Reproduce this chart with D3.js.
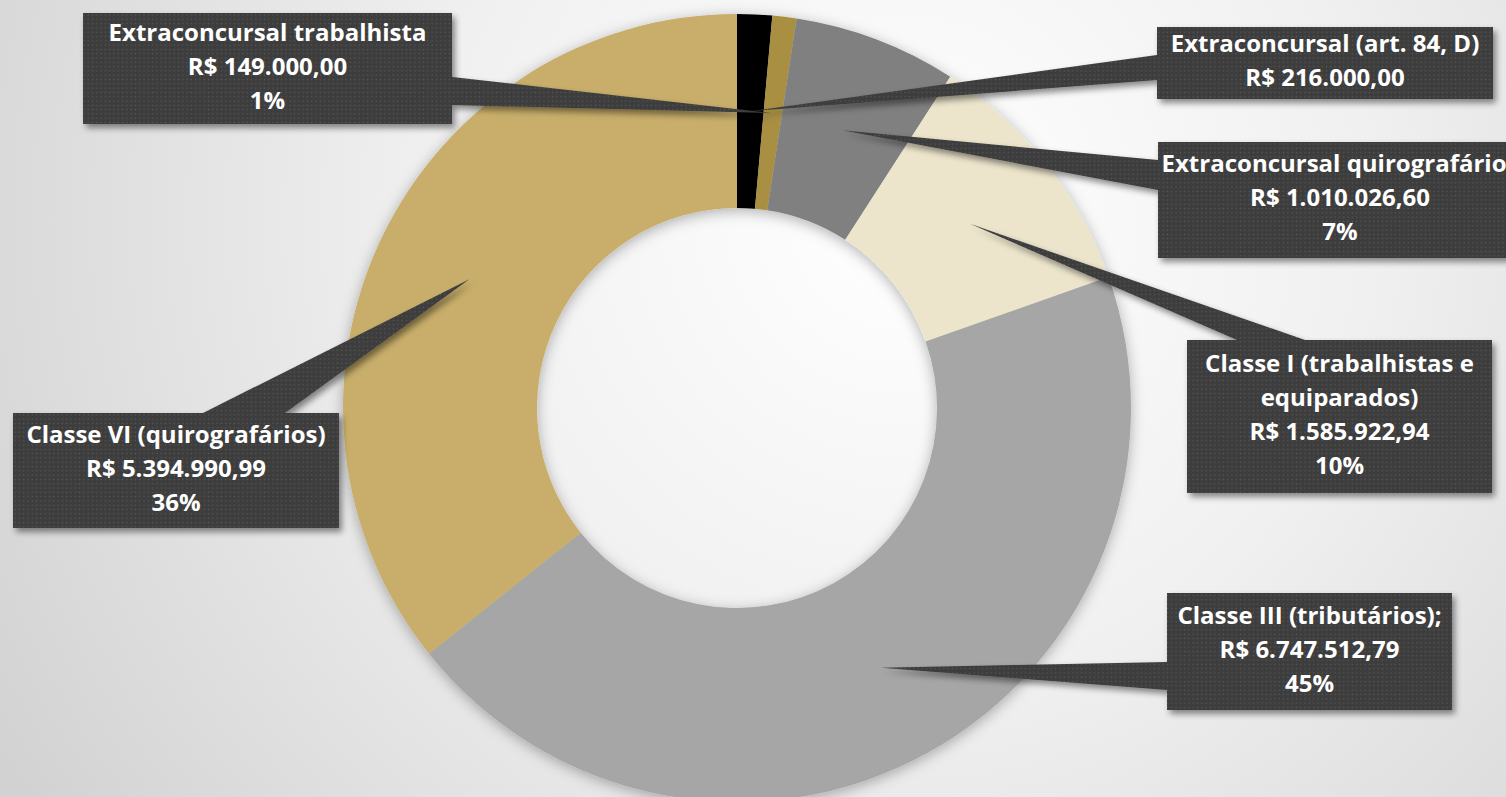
<!DOCTYPE html>
<html>
<head>
<meta charset="utf-8">
<script src="https://cdn.jsdelivr.net/npm/d3@7"></script>
<style>
  html, body { margin: 0; padding: 0; overflow: hidden; }
  svg { display: block; }
</style>
</head>
<body>
<div id="chart"></div>
<script>
// data
var categories = ["Extraconcursal (art. 84, D)", "Extraconcursal trabalhista", "Extraconcursal quirografários",
                  "Classe I (trabalhistas e\nequiparados)", "Classe III (tributários);", "Classe VI (quirografários)"];
var values = [216000, 149000, 1010026.60, 1585922.94, 6747512.79, 5394990.99];
var percentLabels = ["", "1%", "7%", "10%", "45%", "36%"];
var colors = ["#000000", "#a88f42", "#808080", "#ece5cc", "#a6a6a6", "#c8ae6b"];

// callout boxes: [x, y, w, h] and the two base points of the pointer
var boxes = [
  [1157, 27, 336, 72],
  [83, 13, 369, 111],
  [1158, 142, 364, 116],
  [1187, 340, 305, 153],
  [1167, 593, 285, 117],
  [13, 413, 326, 115]
];
var bases = [
  [[1157, 55], [1157, 80]],
  [[452, 77], [452, 105]],
  [[1158, 160], [1158, 190]],
  [[1237, 340], [1305, 340]],
  [[1167, 662], [1167, 690]],
  [[203, 413], [285, 413]]
];

var width = 1506, height = 797;
var cx = 737, cy = 408, outerR = 394, innerR = 200;

var brl = d3.formatLocale({decimal: ",", thousands: ".", grouping: [3], currency: ["R$ ", ""]});
var fmt = brl.format("$,.2f");

var svg = d3.select("#chart").append("svg")
  .attr("width", width)
  .attr("height", height);

var defs = svg.append("defs");

var bg = defs.append("radialGradient")
  .attr("id", "bg")
  .attr("gradientUnits", "userSpaceOnUse")
  .attr("cx", 900).attr("cy", 220).attr("r", 1050);
bg.append("stop").attr("offset", "0").attr("stop-color", "#ffffff");
bg.append("stop").attr("offset", "0.45").attr("stop-color", "#f0f0f0");
bg.append("stop").attr("offset", "1").attr("stop-color", "#d2d2d2");

var pat = defs.append("pattern")
  .attr("id", "dots")
  .attr("patternUnits", "userSpaceOnUse")
  .attr("width", 4.3).attr("height", 4.3);
pat.append("rect").attr("width", 4.3).attr("height", 4.3).attr("fill", "#3d3d3d");
pat.append("rect").attr("x", 1.5).attr("y", 1.5).attr("width", 1.3).attr("height", 1.3).attr("fill", "#595959");

var sh = defs.append("filter").attr("id", "boxShadow")
  .attr("x", "-20%").attr("y", "-20%").attr("width", "140%").attr("height", "140%");
sh.append("feDropShadow").attr("dx", 3).attr("dy", 4).attr("stdDeviation", 3)
  .attr("flood-color", "#000").attr("flood-opacity", 0.45);

var dsh = defs.append("filter").attr("id", "donutShadow")
  .attr("x", "-20%").attr("y", "-20%").attr("width", "140%").attr("height", "140%");
dsh.append("feDropShadow").attr("dx", 0).attr("dy", 3).attr("stdDeviation", 7)
  .attr("flood-color", "#000").attr("flood-opacity", 0.3);

svg.append("rect")
  .attr("width", width).attr("height", height)
  .attr("fill", "url(#bg)");

var pie = d3.pie().sort(null).value(function(d) { return d; });
var arc = d3.arc().innerRadius(innerR).outerRadius(outerR);
var arcs = pie(values);

var g = svg.append("g")
  .attr("transform", "translate(" + cx + "," + cy + ")")
  .attr("filter", "url(#donutShadow)");

g.selectAll("path")
  .data(arcs)
  .enter().append("path")
    .attr("d", arc)
    .attr("fill", function(d, i) { return colors[i]; });

// callouts
var callouts = svg.selectAll(".callout")
  .data(arcs)
  .enter().append("g")
    .attr("class", "callout")
    .attr("filter", "url(#boxShadow)");

callouts.append("path")
  .attr("d", function(d, i) {
    var c = arc.centroid(d);
    var tip = [cx + c[0], cy + c[1]];
    var b = bases[i];
    var bx = boxes[i];
    var mx = bx[0] + bx[2] / 2, my = bx[1] + bx[3] / 2;
    return "M" + b[0] + "L" + tip + "L" + b[1] + "L" + mx + "," + my + "Z";
  })
  .attr("fill", "url(#dots)");

callouts.append("rect")
  .attr("x", function(d, i) { return boxes[i][0]; })
  .attr("y", function(d, i) { return boxes[i][1]; })
  .attr("width", function(d, i) { return boxes[i][2]; })
  .attr("height", function(d, i) { return boxes[i][3]; })
  .attr("fill", "url(#dots)");

var lineH = 34;
svg.selectAll(".label")
  .data(arcs)
  .enter().append("text")
    .attr("class", "label")
    .attr("font-family", "'Open Sans', Lato, sans-serif")
    .attr("font-weight", "bold")
    .attr("font-size", "24px")
    .attr("fill", "#ffffff")
    .attr("text-anchor", "middle")
    .each(function(d, i) {
      var lines = categories[i].split("\n");
      lines.push(fmt(values[i]));
      if (percentLabels[i]) lines.push(percentLabels[i]);
      var bx = boxes[i];
      var x = bx[0] + bx[2] / 2;
      var y0 = bx[1] + bx[3] / 2 - 2 - (lines.length - 1) * lineH / 2;
      var t = d3.select(this);
      lines.forEach(function(s, k) {
        t.append("tspan")
          .attr("x", x)
          .attr("y", y0 + k * lineH)
          .attr("dy", "0.35em")
          .text(s);
      });
    });
</script>
</body>
</html>
